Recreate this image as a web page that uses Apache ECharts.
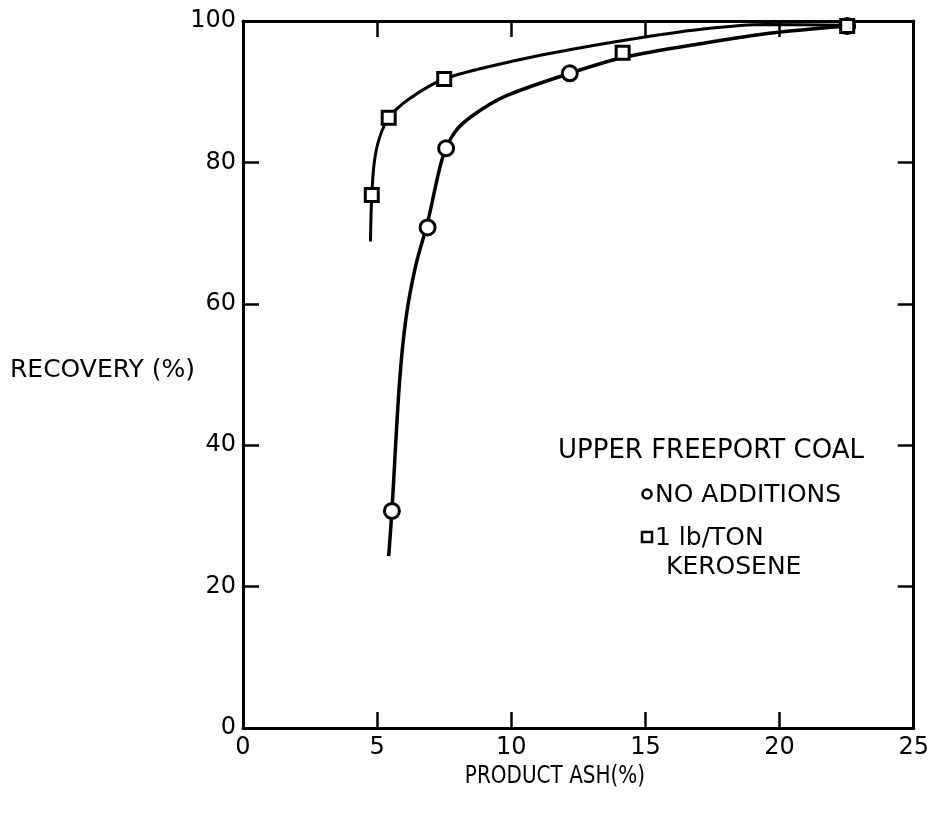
<!DOCTYPE html>
<html>
<head>
<meta charset="utf-8">
<script src="https://cdn.jsdelivr.net/npm/echarts@6/dist/echarts.min.js"></script>
<style>html,body{margin:0;padding:0;background:#fff}#c{width:932px;height:820px}</style>
</head>
<body>
<div id="c"></div>
<script>
// X-axis tick labels and Y-axis tick labels
const xTicks = [0, 5, 10, 15, 20, 25];
const yTicks = [0, 20, 40, 60, 80, 100];

// Measured points: No additions (circles)
const noAddX = [5.55, 6.88, 7.57, 12.18, 22.52];
const noAddY = [30.7, 70.8, 82.0, 92.6, 99.3];

// Measured points: 1 lb/ton kerosene (squares)
const keroX = [4.80, 5.43, 7.50, 14.15, 22.52];
const keroY = [75.4, 86.3, 91.8, 95.5, 99.3];

// Fitted curve: No additions
const noAddCurveX = [5.43, 5.55, 5.83, 6.08, 6.45, 6.88, 7.44, 7.9, 8.55, 9.80, 12.18, 14.12, 17.22, 19.70, 22.52];
const noAddCurveY = [24.3, 30.7, 48.7, 58.1, 65.6, 71.5, 80.7, 84.3, 86.6, 89.4, 92.6, 94.8, 96.9, 98.3, 99.3];

// Fitted curve: kerosene
const keroCurveX = [4.75, 4.80, 4.90, 5.09, 5.43, 6.20, 7.50, 9.80, 12.27, 14.75, 17.22, 19.5, 22.47];
const keroCurveY = [68.8, 75.4, 80.2, 83.5, 86.3, 89.0, 91.8, 94.1, 96.0, 97.6, 98.9, 99.5, 99.4];

const zip = (a, b) => a.map((v, i) => [v, b[i]]);
const FONT = 'DejaVu Sans';
const chart = echarts.init(document.getElementById('c'), null, {renderer: 'canvas'});

const axisCommon = {
  type: 'value',
  axisLine: {show: true, onZero: false, lineStyle: {color: '#000', width: 3}},
  axisTick: {show: true, inside: true, length: 16, lineStyle: {color: '#000', width: 2.5}},
  splitLine: {show: false}
};

chart.setOption({
  animation: false,
  backgroundColor: '#fff',
  grid: {left: 243, right: 15, top: 21, bottom: 92},
  xAxis: [
    Object.assign({}, axisCommon, {
      position: 'bottom', min: xTicks[0], max: xTicks[xTicks.length - 1], interval: 5,
      axisLabel: {color: '#000', fontFamily: FONT, fontSize: 24, margin: 8}
    }),
    Object.assign({}, axisCommon, {
      position: 'top', min: xTicks[0], max: xTicks[xTicks.length - 1], interval: 5,
      axisLabel: {show: false}
    })
  ],
  yAxis: [
    Object.assign({}, axisCommon, {
      position: 'left', min: yTicks[0], max: yTicks[yTicks.length - 1], interval: 20,
      axisLabel: {color: '#000', fontFamily: FONT, fontSize: 24, margin: 7}
    }),
    Object.assign({}, axisCommon, {
      position: 'right', min: yTicks[0], max: yTicks[yTicks.length - 1], interval: 20,
      axisLabel: {show: false}
    })
  ],
  series: [
    {
      type: 'line', name: 'No additions curve', data: zip(noAddCurveX, noAddCurveY),
      smooth: 0.3, showSymbol: false, symbol: 'none',
      lineStyle: {color: '#000', width: 3.5}, z: 2
    },
    {
      type: 'line', name: 'Kerosene curve', data: zip(keroCurveX, keroCurveY),
      smooth: 0.3, showSymbol: false, symbol: 'none',
      lineStyle: {color: '#000', width: 3}, z: 2
    },
    {
      type: 'scatter', name: 'NO ADDITIONS', data: zip(noAddX, noAddY),
      symbol: 'circle', symbolSize: 15,
      itemStyle: {color: '#fff', borderColor: '#000', borderWidth: 3, opacity: 1}, z: 5
    },
    {
      type: 'scatter', name: '1 lb/TON KEROSENE', data: zip(keroX, keroY),
      symbol: 'rect', symbolSize: 13,
      itemStyle: {color: '#fff', borderColor: '#000', borderWidth: 3, opacity: 1}, z: 6
    }
  ],
  graphic: [
    {type: 'text', x: 10, y: 370, style: {text: 'RECOVERY (%)', fill: '#000', font: '25px "DejaVu Sans"', textVerticalAlign: 'middle'}},
    {type: 'text', x: 555, y: 776, scaleX: 0.8, style: {text: 'PRODUCT ASH(%)', fill: '#000', font: '25px "DejaVu Sans"', textAlign: 'center', textVerticalAlign: 'middle'}},
    {type: 'text', x: 558, y: 451, style: {text: 'UPPER FREEPORT COAL', fill: '#000', font: '26px "DejaVu Sans"', textVerticalAlign: 'middle'}},
    {type: 'circle', shape: {cx: 647, cy: 494, r: 4.5}, style: {fill: '#fff', stroke: '#000', lineWidth: 2.5}},
    {type: 'text', x: 655, y: 495, style: {text: 'NO ADDITIONS', fill: '#000', font: '25px "DejaVu Sans"', textVerticalAlign: 'middle'}},
    {type: 'rect', shape: {x: 642, y: 532, width: 10, height: 10}, style: {fill: '#fff', stroke: '#000', lineWidth: 2.5}},
    {type: 'text', x: 655, y: 538, style: {text: '1 lb/TON', fill: '#000', font: '25px "DejaVu Sans"', textVerticalAlign: 'middle'}},
    {type: 'text', x: 666, y: 567, style: {text: 'KEROSENE', fill: '#000', font: '25px "DejaVu Sans"', textVerticalAlign: 'middle'}}
  ]
});
</script>
</body>
</html>
